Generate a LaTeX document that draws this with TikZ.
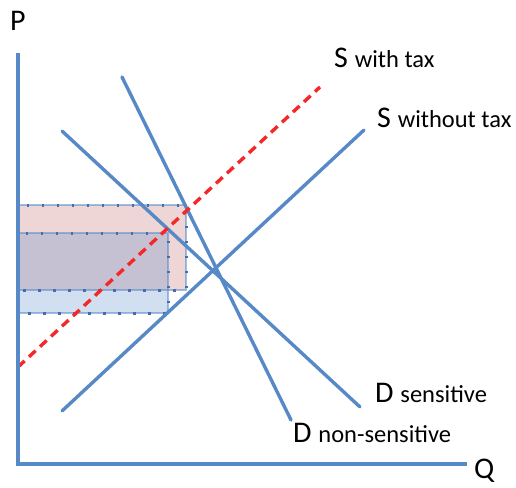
\documentclass[tikz,border=0pt]{standalone}
\usepackage{fontspec}
\setmainfont{Carlito}
\definecolor{lineblue}{RGB}{86,137,198}
\definecolor{taxred}{RGB}{245,40,40}
\definecolor{rectpink}{RGB}{200,120,120}
\definecolor{dotblue}{RGB}{70,110,170}
\newcommand{\smallsz}{\fontsize{24.5}{24.5}\selectfont}
\tikzset{
  curve/.style={draw=lineblue, line width=3.4pt, line cap=round},
  taxcurve/.style={draw=taxred, line width=3.4pt, dash pattern=on 9pt off 6pt},
  axisline/.style={draw=lineblue, line width=3.6pt},
  bigtxt/.style={font=\fontsize{30}{30}\selectfont, anchor=base west, inner sep=0pt},
  rectborder/.style={draw=lineblue, draw opacity=0.55, line width=2pt},
  rectdots/.style={draw=dotblue, line width=3pt, dash pattern=on 2.5pt off 12.5pt},
}
\begin{document}
\begin{tikzpicture}[x=1pt,y=-1pt]
\useasboundingbox (0,0) rectangle (516,487);
% coordinates
\coordinate (origin) at (18,464);
\coordinate (ptop) at (18,53);
\coordinate (qend) at (467,464);
\coordinate (swoA) at (62,411);
\coordinate (swoB) at (364,130);
\coordinate (stA) at (18,367);
\coordinate (stB) at (320,87);
\coordinate (dsA) at (62,131);
\coordinate (dsB) at (360,407);
\coordinate (dnA) at (122,77);
\coordinate (dnB) at (291,420);
\coordinate (pinkA) at (18,205);
\coordinate (pinkB) at (186,290);
\coordinate (blueA) at (18,233);
\coordinate (blueB) at (168,313);
% rectangles
\fill[rectpink, opacity=0.3] (pinkA) rectangle (pinkB);
\fill[lineblue, opacity=0.27] (blueA) rectangle (blueB);
\draw[rectborder] (pinkA) rectangle (pinkB);
\draw[rectborder] (blueA) rectangle (blueB);
\draw[rectdots] (pinkA) rectangle (pinkB);
\draw[rectdots] (blueA) rectangle (blueB);
% curves
\draw[curve] (swoA) -- (swoB);
\draw[curve] (dsA) -- (dsB);
\draw[curve] (dnA) -- (dnB);
\draw[taxcurve] (stA) -- (stB);
% axes
\draw[axisline] (ptop) -- (origin) -- (qend);
% labels
\node[bigtxt] (plabel) at (10,31) {P};
\node[bigtxt] (qlabel) at (474,478) {Q};
\node[bigtxt] (stlabel) at (334,67) {S {\smallsz with tax}};
\node[bigtxt] (swolabel) at (377,127) {S {\smallsz without tax}};
\node[bigtxt] (dslabel) at (375,402) {D {\smallsz sensitive}};
\node[bigtxt] (dnlabel) at (293,442) {D {\smallsz non-sensitive}};
\end{tikzpicture}
\end{document}
